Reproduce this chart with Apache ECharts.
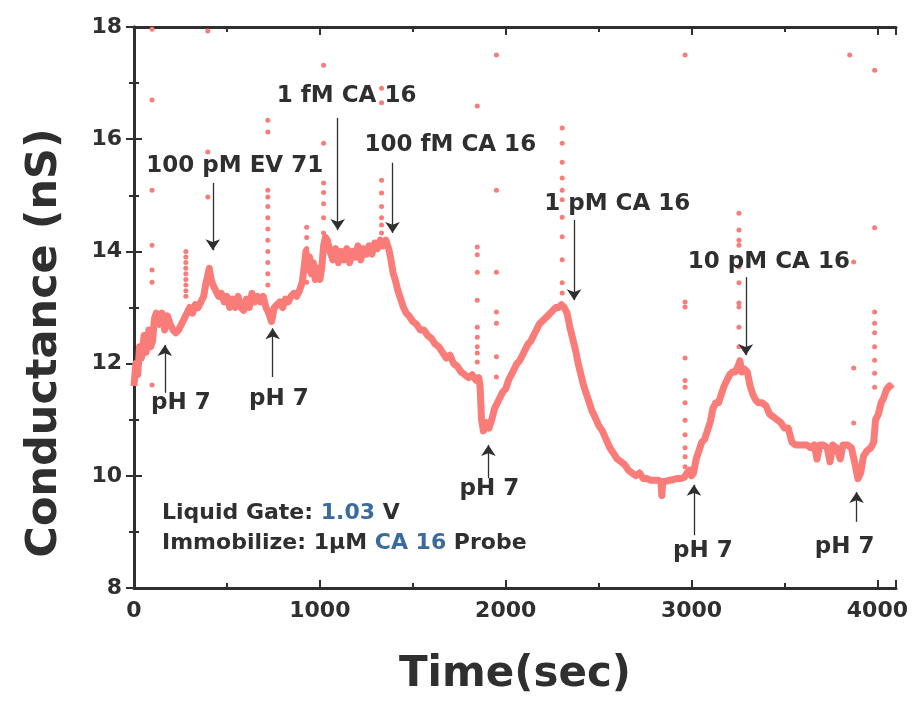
<!DOCTYPE html>
<html>
<head>
<meta charset="utf-8">
<script src="https://cdn.jsdelivr.net/npm/echarts@6/dist/echarts.min.js"></script>
<style>
  html, body { margin: 0; padding: 0; background: #fff; }
  #chart { width: 914px; height: 703px; }
</style>
</head>
<body>
<div id="chart"></div>
<script>
// Conductance of the CA 16 probe device versus time (sec, nS)
const traceTime = [
  0, 10, 20, 30, 40, 55, 65, 80, 90, 100, 110, 120, 135, 150, 165, 180, 195, 210, 225, 240,
  255, 270, 285, 300, 315, 330, 345, 360, 375, 385, 395, 405, 415, 425, 440, 455, 470, 485, 500, 515,
  530, 545, 560, 575, 590, 605, 620, 635, 650, 665, 680, 695, 710, 725, 740, 755, 770, 785, 800, 815,
  830, 845, 860, 875, 890, 905, 915, 925, 935, 945, 955, 965, 975, 990, 1000, 1010, 1020, 1030, 1040, 1055,
  1070, 1085, 1100, 1115, 1130, 1145, 1160, 1175, 1190, 1205, 1220, 1235, 1250, 1265, 1280, 1295, 1310, 1325, 1340, 1355,
  1370, 1380, 1395, 1405, 1420, 1435, 1450, 1465, 1480, 1500, 1520, 1540, 1560, 1580, 1600, 1620, 1640, 1660, 1680, 1700,
  1720, 1740, 1760, 1780, 1800, 1820, 1840, 1855, 1862, 1870, 1880, 1895, 1910, 1925, 1940, 1955, 1970, 1985, 2000, 2015,
  2030, 2045, 2060, 2075, 2090, 2105, 2120, 2135, 2150, 2165, 2180, 2195, 2210, 2225, 2240, 2255, 2270, 2285, 2300, 2315,
  2330, 2345, 2360, 2375, 2390, 2405, 2420, 2435, 2450, 2465, 2480, 2500, 2520, 2540, 2560, 2580, 2600, 2620, 2640, 2660,
  2680, 2700, 2720, 2740, 2760, 2780, 2800, 2820, 2835, 2840, 2845, 2860, 2880, 2900, 2920, 2940, 2960, 2975, 2990, 3000,
  3010, 3025, 3040, 3055, 3070, 3085, 3100, 3115, 3130, 3145, 3160, 3175, 3190, 3205, 3220, 3235, 3250, 3260, 3270, 3285,
  3300, 3315, 3330, 3345, 3360, 3380, 3400, 3420, 3440, 3460, 3480, 3500, 3520, 3540, 3560, 3580, 3600, 3620, 3640, 3660,
  3675, 3690, 3710, 3730, 3745, 3760, 3780, 3800, 3815, 3840, 3860, 3880, 3895, 3910, 3925, 3945, 3965, 3980, 3990, 4005,
  4020, 4035, 4050, 4065, 4080
];
const traceNS = [
  11.6, 12.0, 11.8, 12.3, 12.1, 12.5, 12.2, 12.6, 12.3, 12.4, 12.8, 12.9, 12.7, 12.9, 12.6, 12.85, 12.7, 12.6, 12.55, 12.6,
  12.7, 12.8, 12.9, 13.0, 12.9, 13.05, 13.0, 13.1, 13.2, 13.4, 13.55, 13.7, 13.5, 13.4, 13.3, 13.2, 13.25, 13.1, 13.2, 13.0,
  13.15, 13.0, 13.2, 13.0, 12.95, 13.15, 13.0, 13.25, 13.1, 13.2, 13.1, 13.2, 13.0, 12.9, 12.75, 13.0, 13.05, 13.1, 13.0, 13.15,
  13.1, 13.2, 13.25, 13.2, 13.3, 13.45, 13.7, 14.0, 13.7, 13.9, 13.6, 13.8, 13.5, 13.7, 13.5, 13.7, 14.1, 14.25, 14.2, 14.0,
  13.85, 14.05, 13.8, 14.0, 13.85, 14.05, 13.8, 14.0, 13.9, 14.1, 13.85, 14.05, 13.95, 14.1, 13.95, 14.15, 14.05, 14.2, 14.1, 14.2,
  14.05, 13.9, 13.6, 13.5, 13.3, 13.15, 13.0, 12.9, 12.85, 12.75, 12.7, 12.6, 12.6, 12.5, 12.45, 12.35, 12.3, 12.2, 12.1, 12.15,
  12.0, 11.95, 11.85, 11.8, 11.75, 11.8, 11.7, 11.75, 11.6, 11.0, 10.8, 10.95, 10.85, 11.0, 11.2, 11.3, 11.4, 11.5, 11.55, 11.7,
  11.8, 11.9, 12.0, 12.05, 12.15, 12.25, 12.35, 12.4, 12.5, 12.6, 12.7, 12.75, 12.8, 12.85, 12.9, 12.95, 13.0, 13.0, 13.05, 13.0,
  12.9, 12.65, 12.45, 12.25, 12.0, 11.8, 11.6, 11.45, 11.3, 11.15, 11.05, 10.9, 10.8, 10.65, 10.5, 10.4, 10.3, 10.25, 10.2, 10.1,
  10.05, 10.0, 10.05, 9.95, 9.95, 9.92, 9.92, 9.92, 9.9, 9.65, 9.9, 9.9, 9.92, 9.93, 9.95, 9.95, 9.97, 10.05, 10.1, 10.0,
  10.05, 10.3, 10.45, 10.6, 10.65, 10.8, 10.95, 11.2, 11.3, 11.3, 11.45, 11.6, 11.7, 11.8, 11.85, 11.85, 11.95, 12.05, 11.85, 11.9,
  11.85, 11.6, 11.45, 11.35, 11.3, 11.3, 11.25, 11.1, 11.05, 11.0, 10.95, 10.85, 10.85, 10.6, 10.55, 10.55, 10.55, 10.55, 10.5, 10.55,
  10.3, 10.55, 10.55, 10.5, 10.25, 10.55, 10.5, 10.3, 10.55, 10.55, 10.5, 10.2, 9.95, 10.05, 10.35, 10.45, 10.5, 10.6, 11.0, 11.1,
  11.3, 11.4, 11.55, 11.6, 11.55
];

// Transient spikes recorded as isolated points while solutions were exchanged
const spikeTime = [
  97, 97, 97, 97, 97, 97, 97,
  279, 279, 279, 279, 279, 279, 279, 279, 279,
  397, 397, 397,
  720, 720, 720, 720, 720, 720, 720, 720, 720, 720, 720, 720,
  929, 929, 929, 929, 929, 929,
  1020, 1020, 1020, 1020, 1020, 1020, 1020,
  1332, 1332, 1332, 1332, 1332, 1332, 1332, 1332,
  1847, 1847, 1847, 1847, 1847, 1847, 1847, 1847, 1847, 1847,
  1950, 1950, 1950, 1950, 1950, 1950, 1950,
  2304, 2304, 2304, 2304, 2304, 2304, 2304, 2304, 2304, 2304, 2304,
  2965, 2965, 2965, 2965, 2965, 2965, 2965, 2965, 2965, 2965, 2965, 2965,
  3255, 3255, 3255, 3255, 3255, 3255, 3255, 3255, 3255, 3255,
  3851, 3872, 3872, 3872,
  3985, 3985, 3985, 3985, 3985, 3985, 3985, 3985, 3985
];
const spikeNS = [
  17.96, 16.70, 15.09, 14.11, 13.67, 13.45, 11.62,
  14.0, 13.9, 13.8, 13.7, 13.6, 13.5, 13.4, 13.3, 13.2,
  17.93, 15.77, 14.97,
  16.34, 16.13, 15.09, 14.97, 14.8, 14.6, 14.4, 14.2, 14.0, 13.8, 13.6, 13.4,
  14.43, 14.25, 14.05, 13.85, 13.65, 13.45,
  17.32, 15.93, 15.22, 15.05, 14.85, 14.6, 14.33,
  16.91, 16.65, 15.27, 15.04, 14.8, 14.6, 14.47, 14.33,
  16.59, 14.08, 13.94, 13.63, 13.13, 12.65, 12.47, 12.3, 12.19, 12.03,
  17.5, 15.09, 13.63, 12.92, 12.72, 12.12, 11.76,
  16.2, 15.93, 15.59, 15.31, 15.09, 14.92, 14.61, 14.26, 13.85, 13.44, 13.26,
  17.5, 13.1, 13.01, 12.1, 11.7, 11.58, 11.3, 10.99, 10.73, 10.5, 10.34, 10.16,
  14.68, 14.38, 14.2, 14.11, 13.72, 13.44, 13.08, 13.01, 12.65, 12.3,
  17.5, 13.81, 11.92, 10.94,
  17.23, 14.42, 12.92, 12.72, 12.55, 12.3, 12.06, 11.83, 11.58
];

// Injection annotations: label text, label anchor, arrow x and arrow tail/head values
const noteText = ['100 pM EV 71', '1 fM CA 16', '100 fM CA 16', '1 pM CA 16', '10 pM CA 16',
                  'pH 7', 'pH 7', 'pH 7', 'pH 7', 'pH 7'];
const noteTextT = [542, 1144, 1702, 2600, 3416, 252, 779, 1912, 3061, 3824];
const noteTextV = [15.52, 16.77, 15.89, 14.84, 13.81, 11.30, 11.37, 9.77, 8.66, 8.73];
const arrowT    = [424, 1096, 1391, 2368, 3292, 166, 746, 1907, 3013, 3888];
const arrowFrom = [15.22, 16.38, 15.58, 14.56, 13.54, 11.48, 11.76, 9.96, 8.94, 9.18];
const arrowTo   = [14.02, 14.38, 14.33, 13.13, 12.15, 12.33, 12.63, 10.55, 9.84, 9.71];

const xTicks = [0, 1000, 2000, 3000, 4000];
const yTicks = [8, 10, 12, 14, 16, 18];

const INK = '#2f2f2f';
const TRACE = '#fa7c78';
const BLUE = '#3a6b9c';
const FONT = '"DejaVu Sans", "Liberation Sans", Arial, sans-serif';

const trace = traceTime.map((t, i) => [t, traceNS[i]]);
const spikes = spikeTime.map((t, i) => [t, spikeNS[i]]);
const notes = noteText.map((s, i) => ({ name: s, value: [noteTextT[i], noteTextV[i]] }));
const arrows = arrowT.map((t, i) => [
  { coord: [t, arrowFrom[i]], symbol: 'none' },
  { coord: [t, arrowTo[i]], symbol: 'arrow' }
]);

const axisLineStyle = { show: true, lineStyle: { color: INK, width: 3 } };
const tickCommon = { show: true, inside: true, length: 8, lineStyle: { color: INK, width: 2 } };
const minorCommon = { show: true, splitNumber: 2, length: 5, lineStyle: { color: INK, width: 2 } };

const chart = echarts.init(document.getElementById('chart'), null, { renderer: 'canvas' });
chart.setOption({
  animation: false,
  backgroundColor: '#fff',
  grid: { left: 134, right: 18, top: 27, bottom: 115 },
  xAxis: [{
    type: 'value', min: 0, max: 4100, interval: 1000,
    axisLine: axisLineStyle,
    axisTick: tickCommon, minorTick: minorCommon,
    splitLine: { show: false },
    axisLabel: {
      color: INK, fontFamily: FONT, fontWeight: 'bold', fontSize: 22, margin: 12,
      formatter: v => (xTicks.indexOf(v) >= 0 ? String(v) : '')
    },
    name: 'Time(sec)', nameLocation: 'middle', nameGap: 66,
    nameTextStyle: { color: INK, fontFamily: FONT, fontWeight: 'bold', fontSize: 42 }
  }, {
    type: 'value', position: 'top', min: 0, max: 4100, interval: 1000,
    axisLine: axisLineStyle,
    axisTick: tickCommon, minorTick: minorCommon,
    splitLine: { show: false }, axisLabel: { show: false }
  }],
  yAxis: [{
    type: 'value', min: 8, max: 18, interval: 2,
    axisLine: axisLineStyle,
    axisTick: tickCommon, minorTick: minorCommon,
    splitLine: { show: false },
    axisLabel: {
      color: INK, fontFamily: FONT, fontWeight: 'bold', fontSize: 22, margin: 12,
      formatter: v => (yTicks.indexOf(v) >= 0 ? String(v) : '')
    }
  }, {
    type: 'value', position: 'right', min: 8, max: 18, interval: 2,
    axisLine: axisLineStyle,
    axisTick: tickCommon, minorTick: minorCommon,
    splitLine: { show: false }, axisLabel: { show: false }
  }],
  series: [{
    name: 'Conductance',
    type: 'line',
    data: trace,
    showSymbol: false,
    lineStyle: { color: TRACE, width: 7, join: 'round' },
    itemStyle: { color: TRACE },
    z: 2
  }, {
    name: 'Spikes',
    type: 'scatter',
    data: spikes,
    symbolSize: 5,
    itemStyle: { color: TRACE, opacity: 1 },
    z: 2
  }, {
    name: 'Arrows',
    type: 'line',
    data: [],
    markLine: {
      silent: true,
      symbolSize: 11,
      label: { show: false },
      lineStyle: { color: INK, width: 1.3, type: 'solid', opacity: 1 },
      emphasis: { disabled: true },
      data: arrows
    },
    z: 3
  }, {
    name: 'Notes',
    type: 'scatter',
    data: notes,
    symbolSize: 0,
    itemStyle: { opacity: 1 },
    label: {
      show: true, position: 'inside', formatter: '{b}', opacity: 1,
      color: INK, fontFamily: FONT, fontWeight: 'bold', fontSize: 23
    },
    z: 4
  }],
  graphic: [{
    type: 'text', x: 45, y: 343, rotation: Math.PI / 2,
    style: {
      text: 'Conductance (nS)', align: 'center', verticalAlign: 'middle',
      fill: INK, font: 'bold 43px ' + FONT
    }
  }, {
    type: 'text', left: 162, top: 498,
    style: {
      text: '{k|Liquid Gate: }{b|1.03}{k| V}\n{k|Immobilize: 1\u00b5M }{b|CA 16}{k| Probe}',
      fontFamily: FONT, fontWeight: 'bold', fontSize: 22, lineHeight: 30,
      rich: {
        k: { fill: INK, fontFamily: FONT, fontWeight: 'bold', fontSize: 22, lineHeight: 30 },
        b: { fill: BLUE, fontFamily: FONT, fontWeight: 'bold', fontSize: 22, lineHeight: 30 }
      }
    }
  }]
});
</script>
</body>
</html>
